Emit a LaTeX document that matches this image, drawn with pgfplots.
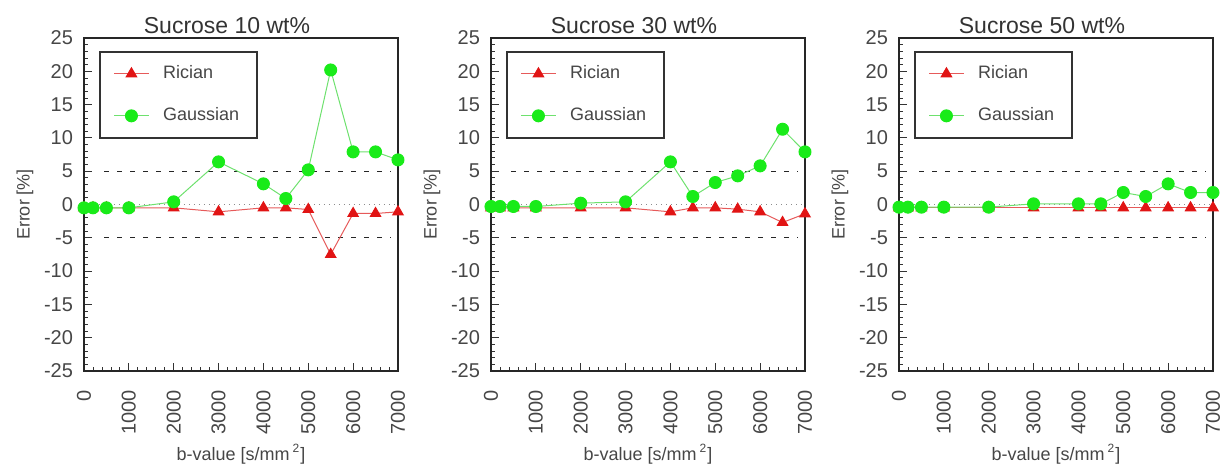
\documentclass[border=0pt]{standalone}
\usepackage{pgfplots}
\pgfplotsset{compat=1.18}
\usepackage{pgfplotstable}
\usepackage{fontspec}
\setmainfont{Liberation Sans}

\definecolor{txt}{RGB}{70,70,70}
\definecolor{ric}{RGB}{225,20,20}
\definecolor{ricline}{RGB}{230,90,90}
\definecolor{gau}{RGB}{25,235,25}
\definecolor{gauline}{RGB}{110,225,110}

% b-value, Rician error, Gaussian error
\pgfplotstableread{
b     ric    gau
0     -0.5   -0.5
200   -0.5   -0.5
500   -0.5   -0.5
1000  -0.5   -0.5
2000  -0.5    0.4
3000  -1.1    6.4
4000  -0.5    3.1
4500  -0.5    0.9
5000  -0.75   5.2
5500  -7.5   20.2
6000  -1.35   7.9
6500  -1.35   7.9
7000  -1.1    6.7
}\sucA
\pgfplotstableread{
b     ric    gau
0     -0.5   -0.3
200   -0.5   -0.3
500   -0.5   -0.3
1000  -0.5   -0.3
2000  -0.5    0.2
3000  -0.5    0.4
4000  -1.1    6.4
4500  -0.5    1.2
5000  -0.5    3.3
5500  -0.7    4.3
6000  -1.1    5.8
6500  -2.7   11.3
7000  -1.4    7.9
}\sucB
\pgfplotstableread{
b     ric    gau
0     -0.5   -0.4
200   -0.5   -0.4
500   -0.5   -0.4
1000  -0.5   -0.4
2000  -0.5   -0.4
3000  -0.5    0.1
4000  -0.5    0.1
4500  -0.5    0.1
5000  -0.5    1.8
5500  -0.5    1.2
6000  -0.5    3.1
6500  -0.5    1.8
7000  -0.5    1.8
}\sucC

\pgfplotsset{
  panel/.style={
    scale only axis, width=157pt, height=166.5pt,
    xmin=0, xmax=7000, ymin=-25, ymax=25,
    xtick={0,1000,...,7000}, ytick={-25,-20,...,25},
    minor x tick num=4, minor y tick num=4,
    tick align=inside, xtick pos=bottom, ytick pos=left,
    major tick length=4pt, minor tick length=2pt,
    every tick/.style={black!80, line width=0.4pt},
    axis line style={black!85, line width=0.8pt},
    font=\fontsize{9}{10}\selectfont\color{txt},
    /pgf/number format/assume math mode=true,
    /pgf/number format/set thousands separator={},
    yticklabel style={font=\fontsize{10}{11}\selectfont\color{txt}, xshift=-2pt},
    xticklabel style={font=\fontsize{10}{11}\selectfont\color{txt}, rotate=90, anchor=east, xshift=-6pt},
    xlabel={b-value [s/mm\,\textsuperscript{2}]},
    ylabel={Error [\%]},
    xlabel style={at={(axis description cs:0.5,0)}, anchor=center, yshift=-41.5pt, font=\fontsize{9}{10}\selectfont\color{txt}},
    ylabel style={at={(axis description cs:-0.188,0.5)}, anchor=center, font=\fontsize{9}{10}\selectfont\color{txt}},
    title style={at={(axis description cs:0.5,1)}, anchor=center, xshift=-7pt, yshift=0.3pt, font=\fontsize{11.5}{13}\selectfont\color{black!80}},
    legend style={at={(0.048,0.961)}, anchor=north west, draw=black!80, line width=0.8pt,
      font=\fontsize{9}{10}\selectfont\color{txt}, inner xsep=7pt, inner ysep=5pt,
      row sep=9pt, legend cell align=left,
      /tikz/every odd column/.append style={column sep=5pt}},
    clip=false,
  },
  ricplot/.style={color=ricline, line width=0.5pt, mark=triangle*, mark size=3pt,
    mark options={fill=ric, draw=ric}},
  gauplot/.style={color=gauline, line width=0.5pt, mark=*, mark size=3pt,
    mark options={fill=gau, draw=gau}},
  refline/.style={black!85, line width=0.5pt, dash pattern=on 2.5pt off 4pt, forget plot},
  zeroline/.style={black!45, line width=0.5pt, dotted, forget plot},
}

\newcommand{\panel}[3]{%
  \begin{axis}[panel, at={(#1,0)}, anchor=south west, title={#2}]
    \addplot[refline] coordinates {(450,5) (6850,5)};
    \addplot[refline] coordinates {(450,-5) (6850,-5)};
    \addplot[zeroline] coordinates {(0,0) (7000,0)};
    \addplot[ricplot] table[x=b, y=ric] {#3};
    \addplot[gauplot] table[x=b, y=gau] {#3};
    \legend{Rician, Gaussian}
  \end{axis}}

\begin{document}
\begin{tikzpicture}
  \path[use as bounding box] (-42pt,-46.5pt) rectangle (569pt,185.5pt);
  \panel{0pt}{Sucrose 10 wt\%}{\sucA}
  \panel{203.5pt}{Sucrose 30 wt\%}{\sucB}
  \panel{407.5pt}{Sucrose 50 wt\%}{\sucC}
\end{tikzpicture}
\end{document}
